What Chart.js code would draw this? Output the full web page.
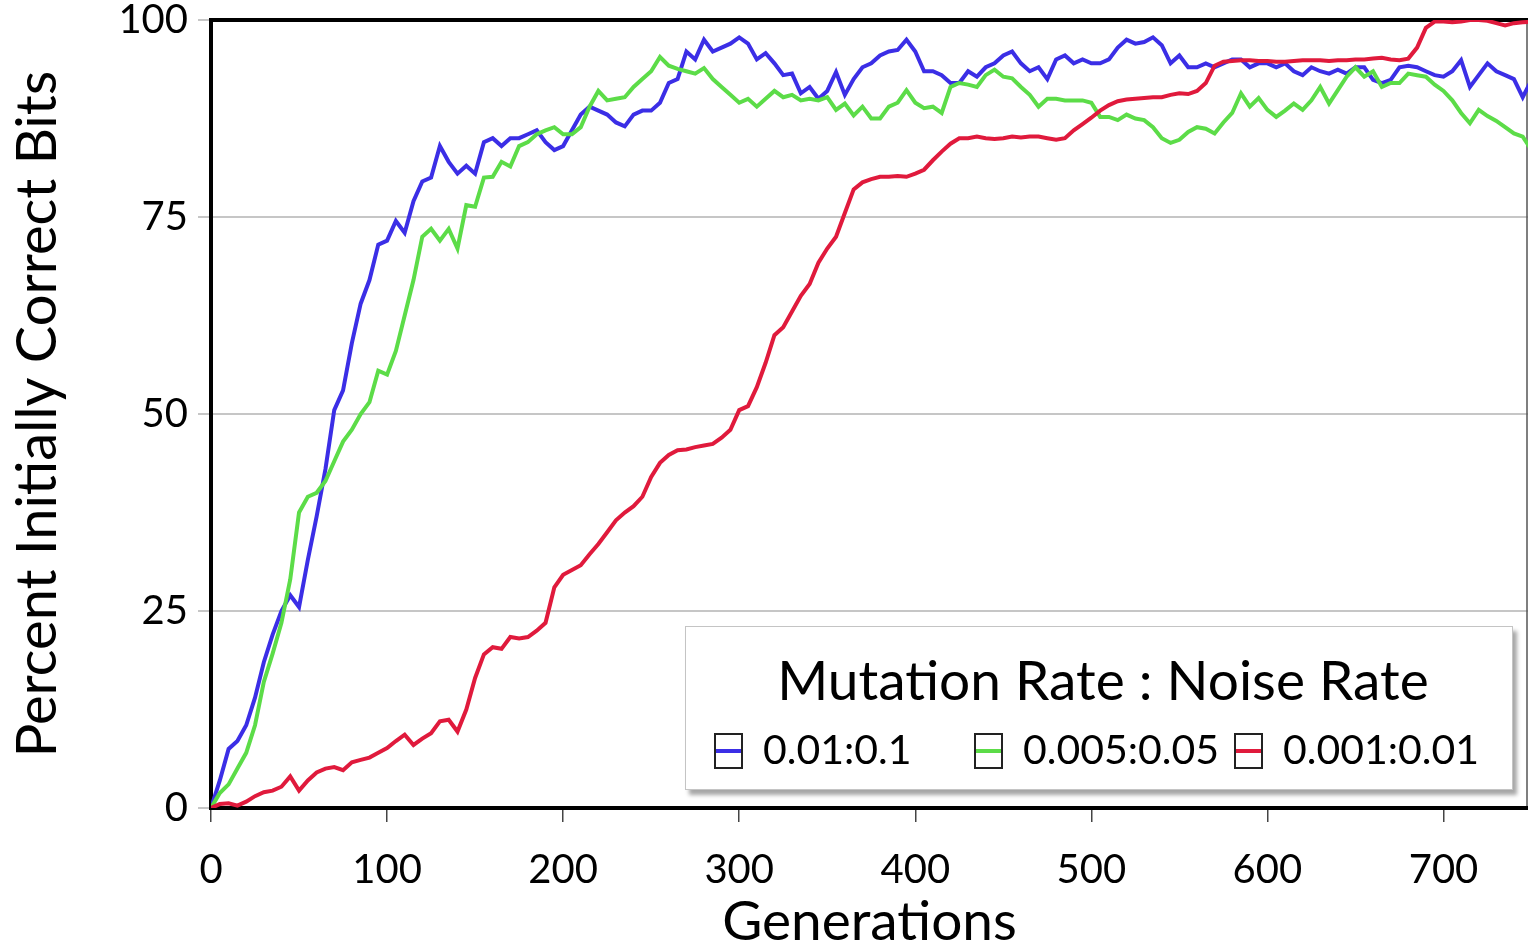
<!DOCTYPE html>
<html>
<head>
<meta charset="utf-8">
<title>Percent Initially Correct Bits</title>
<script src="https://cdn.jsdelivr.net/npm/chart.js@4.4.1/dist/chart.umd.min.js"></script>
<style>
  html, body { margin: 0; padding: 0; background: #fff; }
  #contenedor { position: relative; width: 1530px; height: 950px; }
  #leyenda {
    position: absolute; left: 685px; top: 626px; width: 826px; height: 162px;
    border: 1px solid #c4c4c4; background: #fff;
    box-shadow: 4px 5px 4px rgba(0, 0, 0, 0.35);
    font-family: Lato, "Open Sans", sans-serif; color: #000;
  }
  #leyenda .titulo {
    position: absolute; left: 0; right: 0; top: 22px; text-align: center;
    font-size: 55px; line-height: 60px; padding-left: 8px;
  }
  #leyenda .item { position: absolute; top: 98px; height: 48px; }
  #leyenda .caja {
    position: absolute; left: 0; top: 8px; width: 29px; height: 36px;
    border: 2px solid #222; background: #fff; box-sizing: border-box;
  }
  #leyenda .caja span { position: absolute; left: 0; right: 0; top: 14px; height: 4px; }
  #leyenda .texto { position: absolute; left: 49px; top: 0; font-size: 41px; line-height: 48px; white-space: nowrap; }
</style>
</head>
<body>
<div id="contenedor">
  <canvas id="grafica" width="1530" height="950"></canvas>
  <div id="leyenda"></div>
</div>
<script>
const generaciones = [
  0, 5, 10, 15, 20, 25, 30, 35, 40, 45, 50, 55, 60, 65, 70, 75, 80, 85, 90, 95,
  100, 105, 110, 115, 120, 125, 130, 135, 140, 145, 150, 155, 160, 165, 170, 175, 180, 185, 190, 195,
  200, 205, 210, 215, 220, 225, 230, 235, 240, 245, 250, 255, 260, 265, 270, 275, 280, 285, 290, 295,
  300, 305, 310, 315, 320, 325, 330, 335, 340, 345, 350, 355, 360, 365, 370, 375, 380, 385, 390, 395,
  400, 405, 410, 415, 420, 425, 430, 435, 440, 445, 450, 455, 460, 465, 470, 475, 480, 485, 490, 495,
  500, 505, 510, 515, 520, 525, 530, 535, 540, 545, 550, 555, 560, 565, 570, 575, 580, 585, 590, 595,
  600, 605, 610, 615, 620, 625, 630, 635, 640, 645, 650, 655, 660, 665, 670, 675, 680, 685, 690, 695,
  700, 705, 710, 715, 720, 725, 730, 735, 740, 745, 750
];

// 0.01:0.1
const tasaAlta = [
  0, 3.5, 7.5, 8.5, 10.5, 14, 18.5, 22, 25, 27, 25.5, 31.5, 37, 43, 50.5, 53, 59, 64, 67, 71.5,
  72, 74.5, 73, 77, 79.5, 80, 84, 82, 80.5, 81.5, 80.5, 84.5, 85, 84, 85, 85, 85.5, 86, 84.5, 83.5,
  84, 86, 88, 89, 88.5, 88, 87, 86.5, 88, 88.5, 88.5, 89.5, 92, 92.5, 96, 95, 97.5, 96, 96.5, 97,
  97.8, 97, 95, 95.8, 94.5, 93, 93.2, 90.7, 91.5, 90, 91, 93.4, 90.5, 92.5, 94, 94.5, 95.5, 96, 96.2, 97.5,
  96, 93.5, 93.5, 93, 92, 92, 93.5, 92.8, 94, 94.5, 95.5, 96, 94.5, 93.5, 94, 92.5, 95, 95.5, 94.5, 95,
  94.5, 94.5, 95, 96.5, 97.5, 97, 97.2, 97.8, 96.8, 94.5, 95.5, 94, 94, 94.5, 94, 94.5, 95, 95, 94, 94.5,
  94.5, 94, 94.5, 93.5, 93, 94, 93.5, 93.2, 93.7, 93.2, 94, 94, 92.4, 92, 92.4, 94, 94.2, 94, 93.5, 93,
  92.8, 93.5, 94.9, 91.5, 93, 94.5, 93.5, 93, 92.5, 90.2, 92.4
];

// 0.005:0.05
const tasaMedia = [
  0, 1.9, 3, 5, 7, 10.5, 16, 19.6, 23.5, 29, 37.5, 39.5, 40, 41.5, 44, 46.5, 48, 50, 51.5, 55.5,
  55, 58, 62.5, 67, 72.5, 73.5, 72, 73.5, 71, 76.5, 76.3, 80, 80.1, 82, 81.4, 84, 84.5, 85.5, 86, 86.4,
  85.5, 85.5, 86.4, 89, 91, 89.8, 90, 90.2, 91.5, 92.5, 93.5, 95.3, 94.2, 93.8, 93.5, 93.2, 93.9, 92.5, 91.5, 90.5,
  89.5, 90, 89, 90, 91, 90.2, 90.5, 89.8, 90, 89.8, 90.2, 88.6, 89.4, 87.9, 89, 87.5, 87.5, 89, 89.5, 91.1,
  89.5, 88.8, 89, 88.2, 91.5, 92, 91.8, 91.5, 93, 93.7, 92.8, 92.6, 91.5, 90.5, 89, 90, 90, 89.8, 89.8, 89.8,
  89.5, 87.7, 87.7, 87.3, 88, 87.5, 87.3, 86.4, 85, 84.4, 84.8, 85.8, 86.4, 86.2, 85.6, 87, 88.2, 90.7, 89, 90.1,
  88.6, 87.7, 88.5, 89.4, 88.6, 89.8, 91.5, 89.4, 91.1, 92.8, 94, 92.8, 93.5, 91.5, 92, 92, 93.2, 93, 92.8, 91.8,
  91, 89.8, 88.2, 86.9, 88.6, 87.8, 87.2, 86.4, 85.6, 85.2, 83.5
];

// 0.001:0.01
const tasaBaja = [
  0, 0.5, 0.6, 0.3, 0.8, 1.5, 2, 2.2, 2.7, 4, 2.2, 3.5, 4.5, 5, 5.2, 4.8, 5.8, 6.1, 6.4, 7,
  7.6, 8.5, 9.3, 8, 8.8, 9.5, 11, 11.2, 9.7, 12.5, 16.5, 19.5, 20.4, 20.2, 21.7, 21.5, 21.7, 22.5, 23.5, 28,
  29.6, 30.2, 30.8, 32.2, 33.5, 35, 36.5, 37.5, 38.3, 39.5, 42, 43.8, 44.8, 45.4, 45.5, 45.8, 46, 46.2, 47, 48,
  50.5, 51, 53.4, 56.5, 60, 61, 63, 65, 66.5, 69.2, 71, 72.5, 75.5, 78.5, 79.4, 79.8, 80.1, 80.1, 80.2, 80.1,
  80.5, 81, 82.2, 83.3, 84.3, 85, 85, 85.2, 85, 84.9, 85, 85.2, 85.1, 85.2, 85.2, 85, 84.8, 85, 86, 86.8,
  87.6, 88.5, 89.2, 89.7, 89.9, 90, 90.1, 90.2, 90.2, 90.5, 90.7, 90.6, 91, 92, 94.2, 94.7, 94.8, 94.9, 94.9, 94.8,
  94.8, 94.7, 94.7, 94.8, 94.9, 94.9, 94.9, 94.8, 94.9, 94.9, 95, 95, 95.1, 95.2, 95, 94.9, 95.1, 96.5, 99, 99.8,
  99.8, 99.7, 99.8, 100, 100, 99.9, 99.6, 99.3, 99.6, 99.7, 99.8
];

const etiquetasSeries = ['0.01:0.1', '0.005:0.05', '0.001:0.01'];
const coloresSeries = ['#3b2ee6', '#5cdc48', '#e01a3c'];
const tituloLeyenda = 'Mutation Rate : Noise Rate';
const ticksY = [0, 25, 50, 75, 100];
const ticksX = [0, 100, 200, 300, 400, 500, 600, 700];

const fuente = 'Lato, "Open Sans", sans-serif';

function puntos(valores) {
  return generaciones.map((g, i) => ({ x: g, y: valores[i] }));
}

// marco del area de la grafica: negro grueso arriba, izquierda y abajo
const marco = {
  id: 'marco',
  beforeDatasetsDraw(chart) {
    const { ctx, chartArea: a } = chart;
    ctx.save();
    ctx.strokeStyle = '#555';
    ctx.lineWidth = 1.5;
    ctx.beginPath();
    ctx.moveTo(a.right - 1, a.top);
    ctx.lineTo(a.right - 1, a.bottom);
    ctx.stroke();
    ctx.strokeStyle = '#000';
    ctx.lineWidth = 4;
    ctx.beginPath();
    ctx.moveTo(a.right, a.top);
    ctx.lineTo(a.left, a.top);
    ctx.lineTo(a.left, a.bottom);
    ctx.lineTo(a.right, a.bottom);
    ctx.stroke();
    ctx.restore();
  }
};

const grafica = new Chart(document.getElementById('grafica'), {
  type: 'line',
  data: {
    datasets: [tasaAlta, tasaMedia, tasaBaja].map((valores, i) => ({
      label: etiquetasSeries[i],
      data: puntos(valores),
      borderColor: coloresSeries[i],
      backgroundColor: coloresSeries[i],
      borderWidth: 4,
      pointRadius: 0,
      tension: 0,
      fill: false
    })).reverse()
  },
  options: {
    responsive: false,
    animation: false,
    layout: { padding: { top: 20, right: 2, left: 0, bottom: 0 } },
    plugins: {
      legend: { display: false },
      tooltip: { enabled: false }
    },
    scales: {
      x: {
        type: 'linear',
        min: 0,
        max: 748,
        afterBuildTicks: (s) => { s.ticks = ticksX.map(v => ({ value: v })); },
        afterFit: (s) => { s.height = 142; s.paddingLeft = 0; s.paddingRight = 0; },
        ticks: {
          color: '#000',
          font: { family: fuente, size: 40 },
          padding: 24
        },
        grid: { drawOnChartArea: false, drawTicks: true, tickLength: 14, color: '#444', lineWidth: 1.5 },
        border: { display: false },
        title: {
          display: true,
          text: 'Generations',
          color: '#000',
          font: { family: fuente, size: 55, lineHeight: 1 },
          padding: { top: 0, bottom: 0 }
        }
      },
      y: {
        min: 0,
        max: 100,
        afterBuildTicks: (s) => { s.ticks = ticksY.map(v => ({ value: v })); },
        afterFit: (s) => { s.width = 211; s.paddingTop = 0; s.paddingBottom = 0; },
        ticks: {
          color: '#000',
          font: { family: fuente, size: 40 },
          padding: 10
        },
        grid: { color: '#c6c6c6', lineWidth: 2, tickLength: 13 },
        border: { display: false },
        title: {
          display: true,
          text: 'Percent Initially Correct Bits',
          color: '#000',
          font: { family: fuente, size: 56, lineHeight: 1 },
          padding: { top: 10, bottom: 0 }
        }
      }
    }
  },
  plugins: [marco]
});

// leyenda con titulo, dentro del area de la grafica
const leyenda = document.getElementById('leyenda');
const titulo = document.createElement('div');
titulo.className = 'titulo';
titulo.textContent = tituloLeyenda;
leyenda.appendChild(titulo);
const posiciones = [28, 288, 548];
etiquetasSeries.forEach((etiqueta, i) => {
  const item = document.createElement('div');
  item.className = 'item';
  item.style.left = posiciones[i] + 'px';
  const caja = document.createElement('div');
  caja.className = 'caja';
  const linea = document.createElement('span');
  linea.style.background = coloresSeries[i];
  caja.appendChild(linea);
  const texto = document.createElement('div');
  texto.className = 'texto';
  texto.textContent = etiqueta;
  item.appendChild(caja);
  item.appendChild(texto);
  leyenda.appendChild(item);
});
</script>
</body>
</html>
